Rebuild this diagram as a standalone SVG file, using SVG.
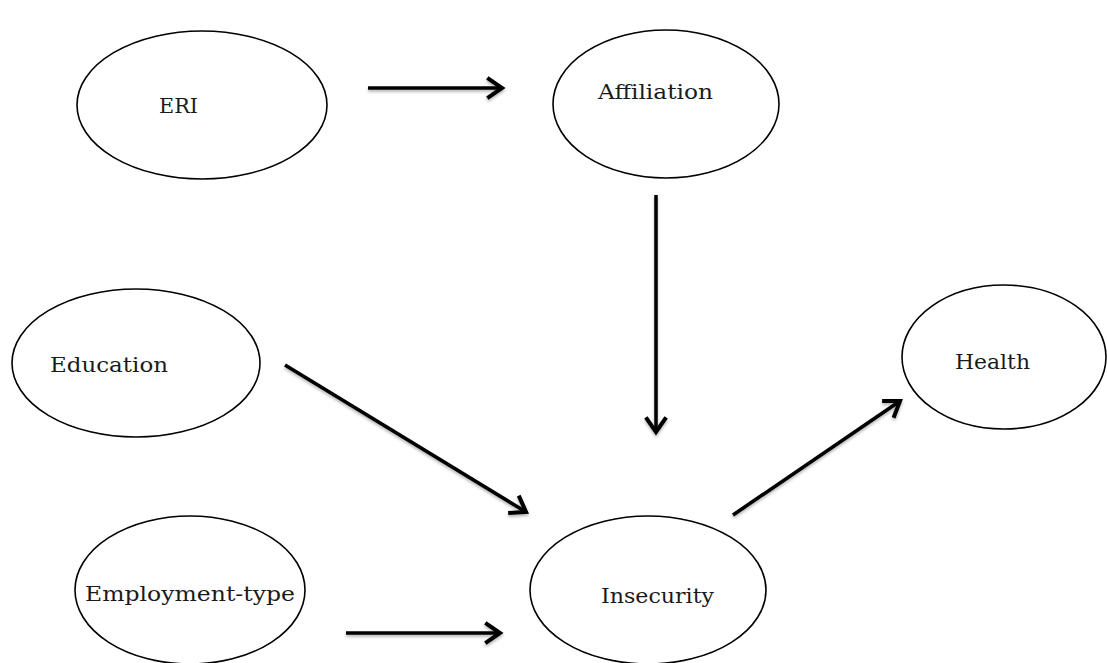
<svg xmlns="http://www.w3.org/2000/svg" width="1107" height="663" viewBox="0 0 1107 663">
  <defs>
    <style>
      .node ellipse { fill: #ffffff; stroke: #000000; stroke-width: 1.6; }
      .node text { font-family: "DejaVu Serif", "Liberation Serif", serif; font-size: 19.5px; fill: #1a1a1a; }
      .conn line { stroke: #000000; stroke-width: 3.5; stroke-linecap: butt; }
    </style>
    <filter id="sh" x="-20%" y="-20%" width="140%" height="160%">
      <feDropShadow dx="0" dy="2" stdDeviation="1.5" flood-color="#000000" flood-opacity="0.3"/>
    </filter>
    <marker id="arr" markerWidth="8" markerHeight="8" refX="6.5" refY="4" orient="auto" markerUnits="strokeWidth" viewBox="0 0 8 8">
      <polyline points="2.3,1.1 6.5,4 2.3,6.9" fill="none" stroke="#000000" stroke-width="1.15"/>
    </marker>
  </defs>
  <rect width="1107" height="663" fill="#ffffff"/>

  <g id="node-eri" class="node">
    <ellipse cx="202" cy="105" rx="125" ry="74"/>
    <text x="159" y="113" textLength="39" lengthAdjust="spacingAndGlyphs">ERI</text>
  </g>
  <g id="node-affiliation" class="node">
    <ellipse cx="666" cy="104" rx="113" ry="74"/>
    <text x="598" y="99" textLength="115" lengthAdjust="spacingAndGlyphs">Affiliation</text>
  </g>
  <g id="node-education" class="node">
    <ellipse cx="136" cy="363" rx="124" ry="74"/>
    <text x="50" y="372" textLength="118" lengthAdjust="spacingAndGlyphs">Education</text>
  </g>
  <g id="node-health" class="node">
    <ellipse cx="1004" cy="357" rx="102" ry="72"/>
    <text x="955" y="369" textLength="75" lengthAdjust="spacingAndGlyphs">Health</text>
  </g>
  <g id="node-employment" class="node">
    <ellipse cx="190" cy="590" rx="115" ry="74"/>
    <text x="85" y="601" textLength="210" lengthAdjust="spacingAndGlyphs">Employment-type</text>
  </g>
  <g id="node-insecurity" class="node">
    <ellipse cx="648" cy="590" rx="118" ry="74"/>
    <text x="601" y="603" textLength="113" lengthAdjust="spacingAndGlyphs">Insecurity</text>
  </g>

  <g id="connectors" class="conn" filter="url(#sh)">
    <line x1="368" y1="88" x2="502" y2="88" marker-end="url(#arr)"/>
    <line x1="656" y1="195" x2="656" y2="432" marker-end="url(#arr)"/>
    <line x1="285" y1="365" x2="526" y2="512" marker-end="url(#arr)"/>
    <line x1="346" y1="633" x2="500" y2="633" marker-end="url(#arr)"/>
    <line x1="733" y1="515" x2="900" y2="401" marker-end="url(#arr)"/>
  </g>
</svg>
